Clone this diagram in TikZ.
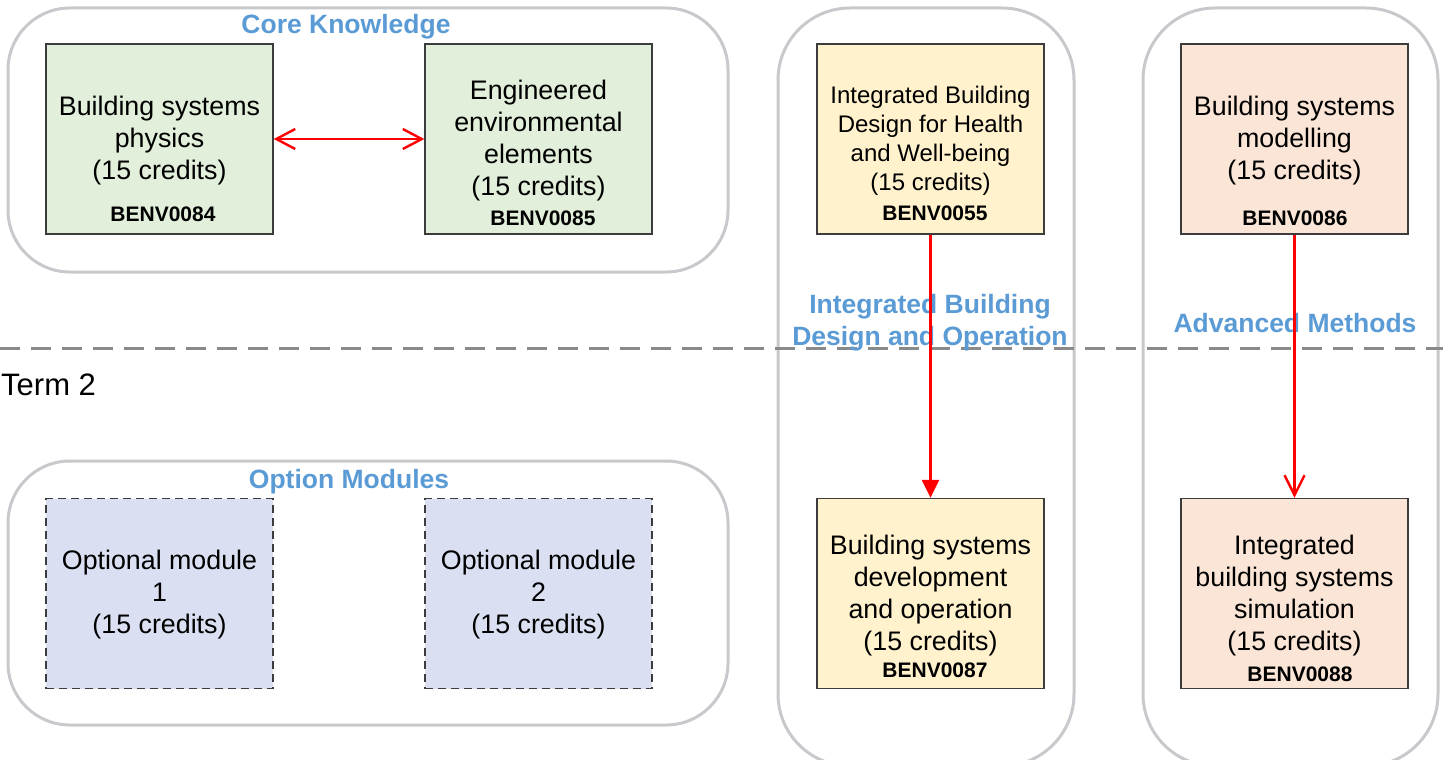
\documentclass[tikz,border=0pt]{standalone}
\usepackage{fontspec}
\setmainfont{Liberation Sans}
\usetikzlibrary{arrows.meta}
\definecolor{contgray}{HTML}{C8C9CC}
\definecolor{titleblue}{HTML}{5B9BD5}
\definecolor{fgreen}{HTML}{E2EFDA}
\definecolor{fyellow}{HTML}{FFF2CC}
\definecolor{fpeach}{HTML}{FBE5D6}
\definecolor{flav}{HTML}{DAE0F2}
\definecolor{boxline}{HTML}{3C3C3C}
\definecolor{dashgray}{HTML}{8A8A8A}
\tikzset{
  container/.style={draw=contgray, line width=3pt, rounded corners=62pt, inner sep=0},
  tallcont/.style={draw=contgray, line width=3pt, rounded corners=72pt, inner sep=0},
  modbox/.style={draw=boxline, line width=1.3pt, minimum width=227pt, minimum height=190pt, inner sep=0},
  modtext/.style={font=\fontsize{26.8}{32}\selectfont, align=center, inner sep=0},
  smalltext/.style={font=\fontsize{24}{29}\selectfont, align=center, inner sep=0},
  codetext/.style={font=\bfseries\fontsize{21}{25}\selectfont, inner sep=0},
  grouptitle/.style={font=\bfseries\fontsize{26.5}{32}\selectfont, text=titleblue, align=center, inner sep=0},
  redline/.style={draw=red, line width=2.4pt},
}
\begin{document}
\begin{tikzpicture}[x=1pt,y=-1pt]
\useasboundingbox (0,0) rectangle (1443,760);
\clip (0,0) rectangle (1443,760);
% containers
\node[container, minimum width=720pt, minimum height=264pt] (core) at (368,140) {};
\node[container, minimum width=720pt, minimum height=264pt] (opt) at (368,593) {};
\node[tallcont, minimum width=296pt, minimum height=758pt] (ibdo) at (926,387) {};
\node[tallcont, minimum width=295pt, minimum height=758pt] (adv) at (1290.5,387) {};
% term divider
\coordinate (dl) at (0,348);
\coordinate (dr) at (1443,348);
\draw[dashgray, line width=3pt, dash pattern=on 20pt off 11pt] (dl) -- (dr);
\node[font=\fontsize{31}{36}\selectfont, anchor=west, inner sep=0] (term) at (1,385) {Term 2};
% module boxes
\node[modbox, fill=fgreen] (bsp) at (159.5,139) {};
\node[modbox, fill=fgreen] (eee) at (538.5,139) {};
\node[modbox, fill=fyellow] (ibd) at (930.5,139) {};
\node[modbox, fill=fyellow] (bsd) at (930.5,593.5) {};
\node[modbox, fill=fpeach] (bsm) at (1294.5,139) {};
\node[modbox, fill=fpeach] (ibs) at (1294.5,593.5) {};
\node[modbox, fill=flav, dashed, dash pattern=on 8pt off 5pt] (om1) at (159.5,593.5) {};
\node[modbox, fill=flav, dashed, dash pattern=on 8pt off 5pt] (om2) at (538.5,593.5) {};
% texts
\node[modtext] (t1) at (159.5,141) {Building systems\\physics\\(15 credits)};
\node[codetext] (c1) at (163,214) {BENV0084};
\node[modtext] (t2) at (538.5,141) {Engineered\\environmental\\elements\\(15 credits)};
\node[codetext] (c2) at (543,218) {BENV0085};
\node[smalltext] (t3) at (930.5,141) {Integrated Building\\Design for Health\\and Well-being\\(15 credits)};
\node[codetext] (c3) at (935,213) {BENV0055};
\node[modtext] (t4) at (1294.5,141) {Building systems\\modelling\\(15 credits)};
\node[codetext] (c4) at (1295,218) {BENV0086};
\node[modtext] (t5) at (930.5,595.5) {Building systems\\development\\and operation\\(15 credits)};
\node[codetext] (c5) at (935,670) {BENV0087};
\node[modtext] (t6) at (1294.5,595.5) {Integrated\\building systems\\simulation\\(15 credits)};
\node[codetext] (c6) at (1300,674) {BENV0088};
\node[modtext] (t7) at (159.5,595) {Optional module\\1\\(15 credits)};
\node[modtext] (t8) at (538.5,595) {Optional module\\2\\(15 credits)};
% group titles
\node[grouptitle] (gcore) at (346,27) {Core Knowledge};
\node[grouptitle] (gopt) at (349,482) {Option Modules};
\node[grouptitle] (gibdo) at (930,323) {Integrated Building\\Design and Operation};
\node[grouptitle] (gadv) at (1295,323) {Advanced Methods};
% connectors
\draw[redline, {Straight Barb[length=19pt,width=20pt,line width=2.4pt]}-{Straight Barb[length=19pt,width=20pt,line width=2.4pt]}] (bsp.east) -- (eee.west);
\draw[redline, -{Triangle[length=18pt,width=17pt]}, fill=red] (ibd.south) -- (bsd.north);
\draw[redline, -{Straight Barb[length=20pt,width=20pt,line width=2.4pt]}] (bsm.south) -- (ibs.north);
\end{tikzpicture}
\end{document}
